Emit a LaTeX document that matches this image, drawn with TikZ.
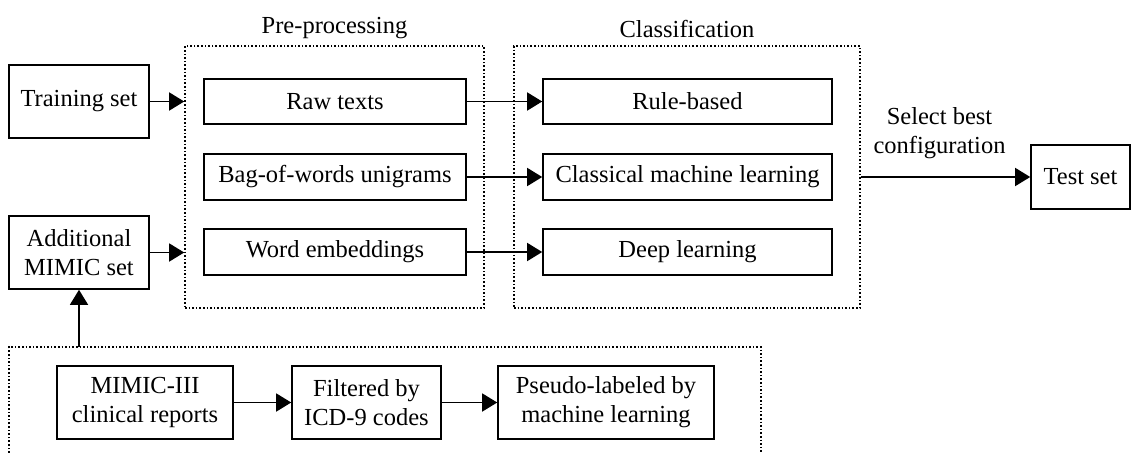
\documentclass[tikz,border=0pt]{standalone}
\usepackage{fontspec}
\setmainfont{Liberation Serif}
\usetikzlibrary{arrows.meta}
\begin{document}
\begin{tikzpicture}[x=1pt,y=-1pt,
  font=\fontsize{24.5}{29}\selectfont,
  box/.style={draw, line width=1.6pt, inner sep=0pt, align=center},
  dotbox/.style={draw, line width=1.6pt, dash pattern=on 1.6pt off 2pt, inner sep=0pt},
  arr/.style={line width=1.5pt, -{Triangle[length=15pt,width=18pt]}}]
\useasboundingbox (0,0) rectangle (1132,453);
% containers
\node[dotbox, minimum width=299pt, minimum height=262pt] (pre) at (334.5,177) {};
\node[dotbox, minimum width=346pt, minimum height=262pt] (cls) at (687,177) {};
\node[anchor=base] (prelab) at (334.5,33) {Pre-processing};
\node[anchor=base] (clslab) at (687,37) {Classification};
% left inputs
\node[box, minimum width=140pt, minimum height=73pt] (train) at (79,101.5) {Training set};
\node[box, minimum width=140pt, minimum height=73pt] (mimic) at (79,252.5) {Additional\\MIMIC set};
% pre-processing boxes
\node[box, minimum width=262pt, minimum height=45pt] (raw) at (335,101.5) {Raw texts};
\node[box, minimum width=262pt, minimum height=46pt] (bow) at (335,177) {Bag-of-words unigrams};
\node[box, minimum width=262pt, minimum height=46pt] (emb) at (335,252) {Word embeddings};
% classification boxes
\node[box, minimum width=289pt, minimum height=45pt] (rule) at (687.5,101.5) {Rule-based};
\node[box, minimum width=289pt, minimum height=46pt] (cml) at (687.5,177) {Classical machine learning};
\node[box, minimum width=289pt, minimum height=46pt] (dl) at (687.5,252) {Deep learning};
% test set
\node[box, minimum width=99pt, minimum height=64pt] (test) at (1080.5,177) {Test set};
\node[align=center, anchor=base] (sel) at (939.5,153) {Select best\\configuration};
% bottom
\coordinate (bbl) at (9,460);
\coordinate (btl) at (9,347);
\coordinate (btr) at (761,347);
\coordinate (bbr) at (761,460);
\coordinate (btop) at (79,347);
\draw[line width=1.6pt, dash pattern=on 1.6pt off 2pt] (bbl) -- (btl) -- (btr) -- (bbr);
\node[box, minimum width=176pt, minimum height=73pt] (m3) at (145,402.5) {MIMIC-III\\clinical reports};
\node[box, minimum width=149pt, minimum height=73pt] (filt) at (366.5,402.5) {Filtered by\\ICD-9 codes};
\node[box, minimum width=216pt, minimum height=73pt] (pseudo) at (606,402.5) {Pseudo-labeled by\\machine learning};
% arrows
\draw[arr] (train.east) -- (pre.west |- train.east);
\draw[arr] (mimic.east) -- (pre.west |- mimic.east);
\draw[arr] (raw.east) -- (rule.west);
\draw[arr] (bow.east) -- (cml.west);
\draw[arr] (emb.east) -- (dl.west);
\draw[arr] (cls.east) -- (test.west);
\draw[arr] (btop) -- (mimic.south);
\draw[arr] (m3.east) -- (filt.west);
\draw[arr] (filt.east) -- (pseudo.west);
\end{tikzpicture}
\end{document}
